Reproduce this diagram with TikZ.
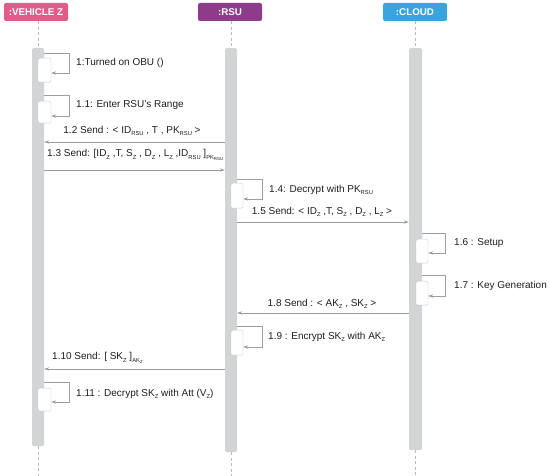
\documentclass[tikz,border=0pt]{standalone}
\usepackage{fontspec}
\setmainfont{Liberation Sans}
\usetikzlibrary{arrows.meta}
\newcommand\lowtx[1]{\raisebox{-0.45ex}{\fontsize{5.8pt}{6pt}\selectfont #1}}
\newcommand\lowtxx[1]{\raisebox{-0.4ex}{\fontsize{4.4pt}{5pt}\selectfont #1}}
\definecolor{vehcol}{HTML}{E25B8B}
\definecolor{rsucol}{HTML}{8E3B8C}
\definecolor{cloudcol}{HTML}{3AA4DD}
\definecolor{barcol}{HTML}{D3D4D5}
\definecolor{linecol}{HTML}{9E9E9E}
\definecolor{txtcol}{HTML}{1E1E1E}
\tikzset{
  header/.style={rounded corners=2pt, minimum width=64pt, minimum height=18pt, inner sep=0pt,
    text=white, font=\bfseries\fontsize{9.8pt}{11pt}\selectfont},
  lifebar/.style={fill=barcol, draw=none, rounded corners=1.5pt, inner sep=0pt, anchor=north},
  actbox/.style={fill=white, draw=barcol!80!black!60, line width=0.4pt, rounded corners=2pt, inner sep=0pt,
    minimum width=13pt, anchor=north},
  lifeline/.style={draw=linecol!70, dash pattern=on 3pt off 2.5pt, line width=0.6pt},
  msg/.style={draw=linecol, line width=0.8pt, -{Stealth[length=5pt,width=3.4pt]}},
  lbl/.style={text=txtcol, font=\fontsize{10pt}{11pt}\selectfont, inner sep=0pt},
}
\begin{document}
\begin{tikzpicture}[x=1pt,y=-1pt]
\useasboundingbox (0,0) rectangle (550,476);
% headers
\node[header, fill=vehcol] (veh) at (36,12) {:VEHICLE Z};
\node[header, fill=rsucol] (rsu) at (230,12) {:RSU};
\node[header, fill=cloudcol] (cloud) at (415,12) {:CLOUD};
% lifeline bars
\node[lifebar, minimum width=12pt, minimum height=398pt] (vbar) at (38,48) {};
\node[lifebar, minimum width=12pt, minimum height=404pt] (rbar) at (231,48) {};
\node[lifebar, minimum width=13pt, minimum height=402pt] (cbar) at (415.5,48) {};
% dashed lifelines
\coordinate (vend) at (38,476);
\coordinate (rend) at (231,476);
\coordinate (cend) at (415.5,476);
\draw[lifeline] (veh.south -| vbar.north) -- (vbar.north);
\draw[lifeline] (vbar.south) -- (vend);
\draw[lifeline] (rsu.south -| rbar.north) -- (rbar.north);
\draw[lifeline] (rbar.south) -- (rend);
\draw[lifeline] (cloud.south -| cbar.north) -- (cbar.north);
\draw[lifeline] (cbar.south) -- (cend);

% activation boxes
\node[actbox, minimum height=24pt] (a1) at (44.5,58) {};
\node[actbox, minimum height=22pt] (a11) at (44.5,101) {};
\node[actbox, minimum width=12pt, minimum height=25pt] (a14) at (237,183) {};
\node[actbox, minimum width=12pt, minimum height=24pt] (a16) at (422,239) {};
\node[actbox, minimum width=12pt, minimum height=24pt] (a17) at (422,281) {};
\node[actbox, minimum width=12pt, minimum height=25pt] (a19) at (237,330) {};
\node[actbox, minimum height=23pt] (a111) at (44.5,388) {};

% self messages
\draw[msg] (vbar.east |- 0,53) -- (69,53) -- (69,73) -- (a1.east |- 0,73);
\node[lbl, anchor=west] (l1) at (76,63) {1:Turned on OBU ()};
\draw[msg] (vbar.east |- 0,95) -- (69,95) -- (69,116) -- (a11.east |- 0,116);
\node[lbl, anchor=west] (l11) at (76,105) {1.1: Enter RSU's Range};
\draw[msg] (rbar.east |- 0,179) -- (262,179) -- (262,199) -- (a14.east |- 0,199);
\node[lbl, anchor=west] (l14) at (269,190) {1.4: Decrypt with PK\lowtx{RSU}};
\draw[msg] (cbar.east |- 0,233) -- (445,233) -- (445,253) -- (a16.east |- 0,253);
\node[lbl, anchor=west] (l16) at (454,243) {1.6 : Setup};
\draw[msg] (cbar.east |- 0,275) -- (445,275) -- (445,296) -- (a17.east |- 0,296);
\node[lbl, anchor=west] (l17) at (454,286) {1.7 : Key Generation};
\draw[msg] (rbar.east |- 0,326) -- (262,326) -- (262,347) -- (a19.east |- 0,347);
\node[lbl, anchor=west] (l19) at (268,337) {1.9 : Encrypt SK\lowtx{Z} with AK\lowtx{Z}};
\draw[msg] (vbar.east |- 0,382) -- (69,382) -- (69,402) -- (a111.east |- 0,402);
\node[lbl, anchor=west] (l111) at (76,394) {1.11 : Decrypt SK\lowtx{Z} with Att (V\lowtx{Z})};

% messages between lifelines
\draw[msg] (rbar.west |- 0,142) -- (vbar.east |- 0,142);
\node[lbl] (l12) at (132,131) {1.2 Send : < ID\lowtx{RSU} , T , PK\lowtx{RSU} >};
\draw[msg] (vbar.east |- 0,170) -- (rbar.west |- 0,170);
\node[lbl, anchor=west] (l13) at (47,155) {1.3 Send: [ID\lowtx{Z} ,T, S\lowtx{Z} , D\lowtx{Z} , L\lowtx{Z} ,ID\lowtx{RSU} ]\lowtx{PK\lowtxx{RSU}}};
\draw[msg] (rbar.east |- 0,222) -- (cbar.west |- 0,222);
\node[lbl] (l15) at (322,212) {1.5 Send: < ID\lowtx{Z} ,T, S\lowtx{Z} , D\lowtx{Z} , L\lowtx{Z} >};
\draw[msg] (cbar.west |- 0,313) -- (rbar.east |- 0,313);
\node[lbl] (l18) at (322,304) {1.8 Send : < AK\lowtx{Z} , SK\lowtx{Z} >};
\draw[msg] (rbar.west |- 0,369) -- (vbar.east |- 0,369);
\node[lbl, anchor=west] (l110) at (52,358) {1.10 Send: [ SK\lowtx{Z} ]\lowtx{AK\lowtxx{Z}}};
\end{tikzpicture}
\end{document}
